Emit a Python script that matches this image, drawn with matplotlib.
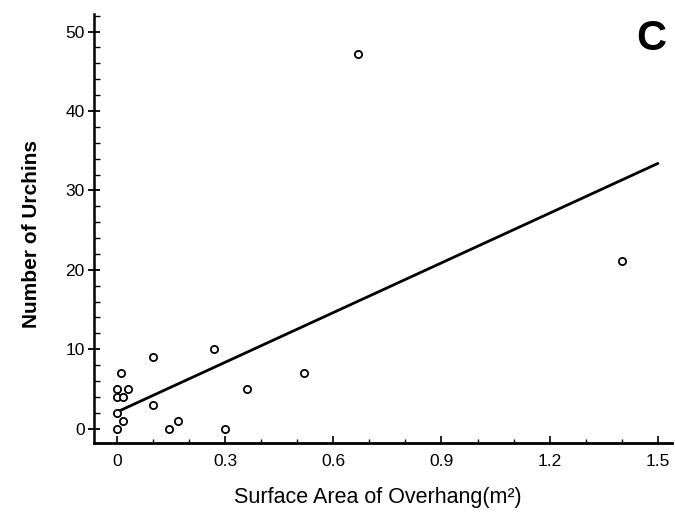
"""Panel C: urchin counts against overhang surface area, with fitted line."""

import numpy as np
import matplotlib
matplotlib.use('Agg')
import matplotlib.pyplot as plt
from matplotlib.ticker import MultipleLocator

# surface area of overhang (m^2) and number of urchins
area = [0.0, 0.0, 0.01, 0.03, 0.017, 0.0, 0.017, 0.0, 0.10, 0.10,
        0.145, 0.17, 0.27, 0.30, 0.36, 0.52, 0.668, 1.40]
urchins = [5, 4, 7, 5, 4, 2, 1, 0, 9, 3,
           0, 1, 10, 0, 5, 7, 47.2, 21.1]

# regression line end points as drawn
fit_x = [0.0, 1.5]
fit_y = [2.1, 33.4]

x_ticks = [0, 0.3, 0.6, 0.9, 1.2, 1.5]
x_tick_labels = ['0', '0.3', '0.6', '0.9', '1.2', '1.5']
y_ticks = [0, 10, 20, 30, 40, 50]

plt.rcParams['font.family'] = ['Liberation Sans', 'DejaVu Sans']

fig = plt.figure(figsize=(6.75, 5.23), dpi=100)
ax = fig.add_axes([0.139, 0.153, 0.857, 0.82])

ax.plot(fit_x, fit_y, color='black', linewidth=2.0, solid_capstyle='round')
ax.plot(area, urchins, 'o', markersize=5.2, markerfacecolor='white',
        markeredgecolor='black', markeredgewidth=1.3)

ax.set_xlim(-0.064, 1.54)
ax.set_ylim(-1.8, 52.2)

ax.set_xticks(x_ticks)
ax.set_xticklabels(x_tick_labels)
ax.set_yticks(y_ticks)
ax.xaxis.set_minor_locator(MultipleLocator(0.1))
ax.yaxis.set_minor_locator(MultipleLocator(2))

ax.tick_params(axis='x', which='major', direction='in', length=5, width=1.2,
               pad=8, labelsize=12.5)
ax.tick_params(axis='x', which='minor', direction='in', length=3, width=1.0)
ax.tick_params(axis='y', which='major', direction='inout', length=9, width=1.3,
               pad=2, labelsize=12.5)
ax.tick_params(axis='y', which='minor', direction='in', length=4, width=1.0)

ax.spines[['top', 'right']].set_visible(False)
ax.spines['left'].set_linewidth(1.8)
ax.spines['bottom'].set_linewidth(2.0)

fig.text(0.047, 0.553, 'Number of Urchins', rotation=90, ha='center',
         va='center', fontsize=15, fontweight='bold')
fig.text(0.56, 0.048, 'Surface Area of Overhang(m²)', ha='center',
         va='center', fontsize=15.5)
fig.text(0.965, 0.925, 'C', ha='center', va='center', fontsize=30,
         fontweight='bold')

fig.savefig('out.png', dpi=100)
